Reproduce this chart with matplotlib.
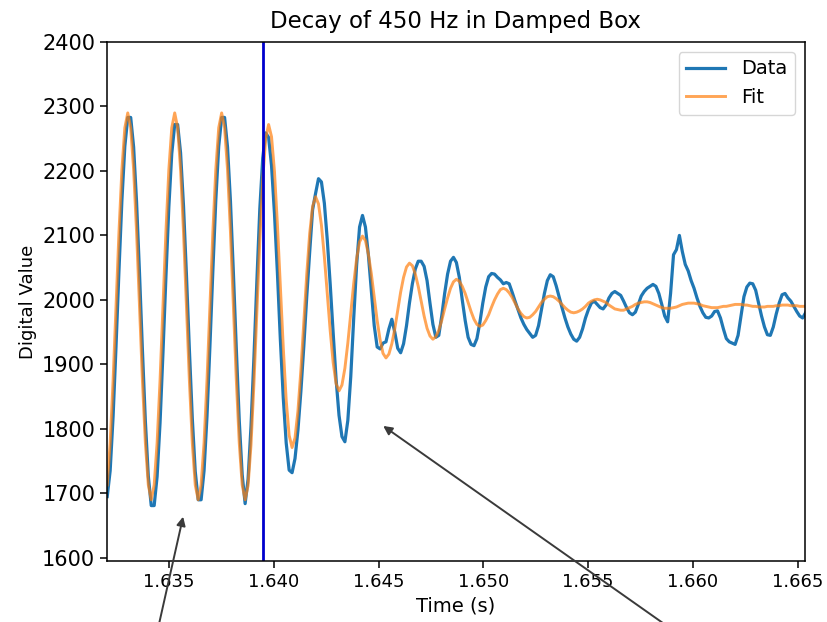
import numpy as np
import matplotlib
matplotlib.use("Agg")
from matplotlib import pyplot as plt

# sampled time axis (s)
t_start = 1.63205
dt = 0.00014

data = [
    1695, 1735, 1819, 1928, 2045, 2154, 2238, 2283, 2283, 2237,
    2152, 2042, 1922, 1812, 1727, 1681, 1681, 1726, 1809, 1918,
    2035, 2144, 2227, 2272, 2272, 2228, 2146, 2039, 1923, 1816,
    1734, 1690, 1690, 1735, 1819, 1928, 2045, 2154, 2238, 2283,
    2283, 2237, 2153, 2042, 1924, 1813, 1729, 1684, 1722, 1804,
    1911, 2029, 2141, 2220, 2259, 2252, 2208, 2134, 2042, 1939,
    1848, 1778, 1736, 1732, 1754, 1798, 1858, 1928, 2005, 2074,
    2140, 2165, 2188, 2183, 2150, 2093, 2024, 1949, 1877, 1821,
    1788, 1780, 1813, 1881, 1971, 2054, 2113, 2131, 2113, 2070,
    2014, 1960, 1927, 1924, 1933, 1935, 1955, 1970, 1950, 1925,
    1918, 1932, 1960, 1995, 2025, 2048, 2060, 2060, 2052, 2030,
    1995, 1962, 1942, 1945, 1975, 2010, 2040, 2060, 2066, 2058,
    2035, 2000, 1968, 1942, 1931, 1929, 1940, 1965, 1995, 2020,
    2036, 2041, 2040, 2035, 2031, 2025, 2027, 2025, 2012, 1998,
    1985, 1972, 1962, 1954, 1948, 1942, 1945, 1960, 1985, 2010,
    2030, 2039, 2036, 2022, 2005, 1988, 1972, 1958, 1947, 1939,
    1936, 1942, 1955, 1972, 1985, 1995, 1998, 1993, 1988, 1986,
    1992, 2003, 2010, 2013, 2010, 2007, 1998, 1988, 1980, 1977,
    1981, 1993, 2006, 2013, 2018, 2021, 2024, 2021, 2010, 1993,
    1975, 1966, 2010, 2070, 2078, 2100, 2075, 2055, 2045, 2030,
    2018, 2003, 1990, 1980, 1973, 1972, 1975, 1982, 1983, 1972,
    1955, 1940, 1935, 1933, 1931, 1945, 1975, 2005, 2020, 2026,
    2025, 2015, 1995, 1975, 1958, 1946, 1945, 1958, 1978, 1995,
    2008, 2010, 2003, 1998, 1990, 1982, 1975, 1972, 1980,
]

fit = [
    1713, 1778, 1875, 1990, 2105, 2202, 2267, 2290, 2267, 2202,
    2105, 1990, 1875, 1778, 1713, 1690, 1713, 1778, 1875, 1990,
    2105, 2202, 2267, 2290, 2267, 2202, 2105, 1990, 1875, 1778,
    1713, 1690, 1713, 1778, 1875, 1990, 2105, 2202, 2267, 2290,
    2267, 2202, 2105, 1990, 1875, 1778, 1713, 1690, 1712, 1775,
    1870, 1981, 2092, 2187, 2250, 2272, 2253, 2199, 2117, 2021,
    1926, 1844, 1790, 1771, 1786, 1828, 1891, 1966, 2040, 2103,
    2145, 2160, 2149, 2116, 2067, 2010, 1952, 1903, 1870, 1859,
    1868, 1894, 1933, 1979, 2025, 2064, 2090, 2099, 2092, 2071,
    2041, 2005, 1968, 1938, 1917, 1910, 1916, 1932, 1955, 1984,
    2012, 2035, 2051, 2057, 2053, 2040, 2021, 1998, 1975, 1956,
    1944, 1939, 1943, 1953, 1968, 1986, 2003, 2018, 2028, 2032,
    2029, 2021, 2010, 1996, 1982, 1970, 1962, 1959, 1961, 1968,
    1977, 1989, 2000, 2009, 2016, 2018, 2016, 2011, 2004, 1995,
    1986, 1979, 1974, 1972, 1973, 1977, 1982, 1989, 1996, 2001,
    2005, 2006, 2005, 2002, 1998, 1993, 1988, 1984, 1981, 1980,
    1981, 1983, 1986, 1990, 1995, 1998, 2000, 2001, 2000, 1998,
    1996, 1992, 1989, 1986, 1985, 1984, 1984, 1986, 1988, 1990,
    1993, 1995, 1996, 1997, 1997, 1996, 1994, 1992, 1990, 1988,
    1987, 1987, 1987, 1988, 1989, 1991, 1993, 1994, 1995, 1995,
    1995, 1994, 1993, 1991, 1990, 1989, 1988, 1988, 1988, 1989,
    1990, 1990, 1991, 1992, 1993, 1993, 1993, 1992, 1992, 1991,
    1990, 1990, 1989, 1989, 1989, 1990, 1990, 1990, 1991, 1991,
    1992, 1992, 1992, 1991, 1991, 1991, 1990, 1990, 1990,
]

decay_start = 1.63949

# arrows: (tip x, tip y, tail x, tail y) in data units
arrows = [
    (1.6357, 1668, 1.63436, 1474),
    (1.64511, 1807, 1.65965, 1474),
]

time_data = t_start + dt * np.arange(len(data))
time_fit = t_start + dt * np.arange(len(fit))

fig = plt.figure(figsize=(8.27, 6.22), dpi=100)
ax = fig.add_axes([0.1294, 0.098, 0.8434, 0.8345])

ax.plot(time_data, data, color="C0", lw=2.3, label="Data")
ax.plot(time_fit, fit, color="C1", lw=2.1, alpha=0.7, label="Fit")
ax.axvline(decay_start, color="mediumblue", lw=2)

ax.set_xlim(1.63204, 1.66532)
ax.set_ylim(1595, 2400)
ax.set_xticks([1.635, 1.640, 1.645, 1.650, 1.655, 1.660, 1.665])
ax.set_yticks(range(1600, 2401, 100))
ax.tick_params(length=5, width=1.1)
ax.tick_params(axis="x", labelsize=13)
ax.tick_params(axis="y", labelsize=15)
for s in ax.spines.values():
    s.set_linewidth(1.1)

ax.set_title("Decay of 450 Hz in Damped Box", fontsize=16.5, pad=10)
ax.set_xlabel("Time (s)", fontsize=14)
ax.set_ylabel("Digital Value", fontsize=13)
ax.legend(loc="upper right", fontsize=14)

for tx, ty, sx, sy in arrows:
    ax.annotate("", xy=(tx, ty), xytext=(sx, sy), annotation_clip=False,
                arrowprops=dict(arrowstyle="-|>", color="#3a3a3a", lw=1.4,
                                mutation_scale=13))

fig.savefig("out.png", dpi=100)
